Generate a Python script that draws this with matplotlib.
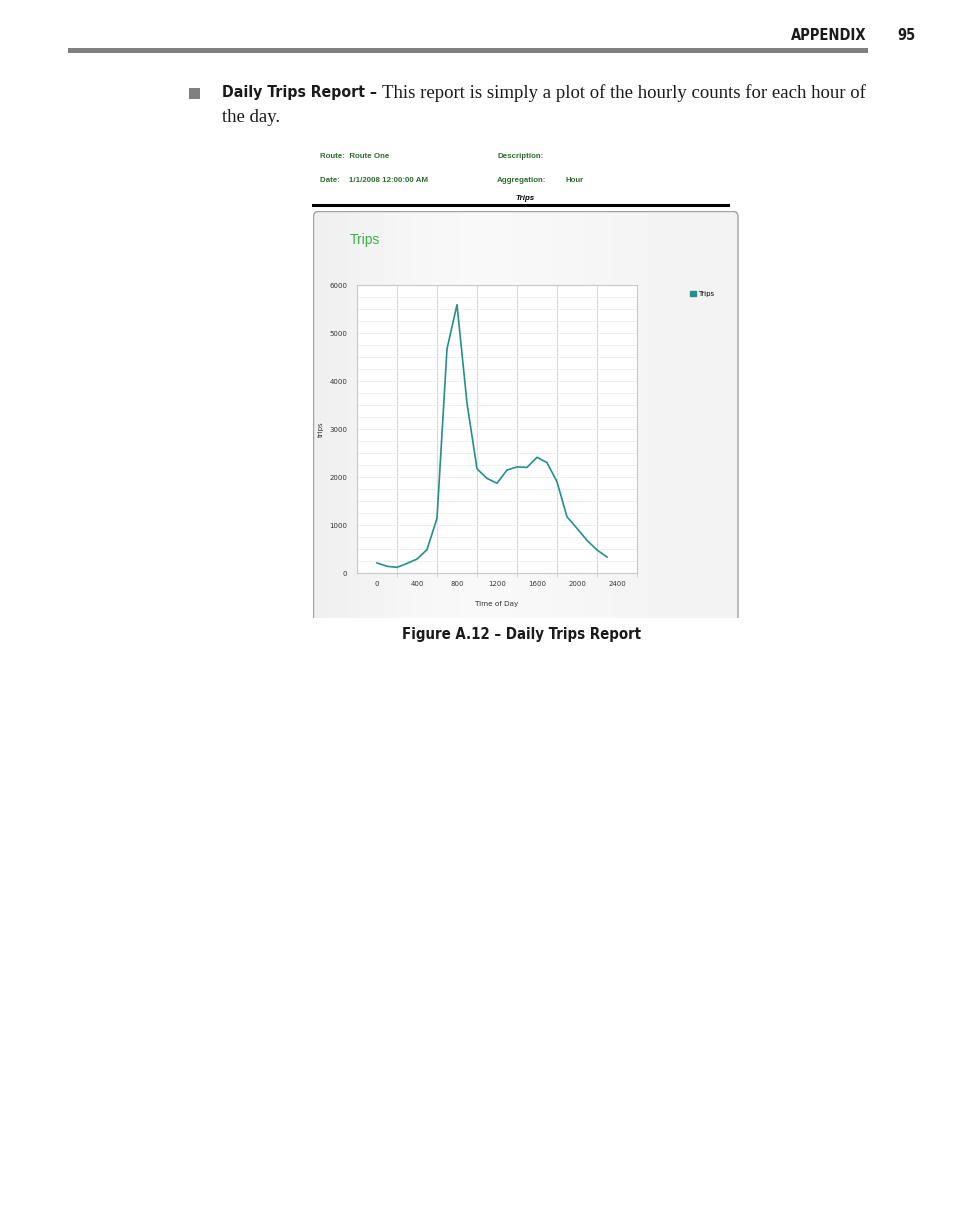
import numpy as np
import matplotlib
matplotlib.use("Agg")
import matplotlib.pyplot as plt
from matplotlib.patches import Rectangle, FancyBboxPatch, Patch
from matplotlib.lines import Line2D

# hourly counts
hours = [0, 100, 200, 300, 400, 500, 600, 700, 800, 900, 1000, 1100,
         1200, 1300, 1400, 1500, 1600, 1700, 1800, 1900, 2000, 2100, 2200, 2300]
trips = [210, 140, 118, 200, 290, 486, 1140, 4670, 5590, 3540, 2170, 1970,
         1870, 2145, 2210, 2200, 2410, 2300, 1900, 1170, 930, 680, 480, 333]
x_ticks = [0, 400, 800, 1200, 1600, 2000, 2400]
x_grid = [200, 600, 1000, 1400, 1800, 2200, 2600]
y_ticks = [0, 1000, 2000, 3000, 4000, 5000, 6000]

W, H = 954, 1227
fig = plt.figure(figsize=(W / 100, H / 100), dpi=100)
fig.patch.set_facecolor("white")


def fx(x):
    return x / W


def fy(y):
    return 1 - y / H


def box(x0, y0, x1, y1):
    # pixel box -> axes rect in figure fraction
    return [fx(x0), fy(y1), (x1 - x0) / W, (y1 - y0) / H]


narrow = dict(family="DejaVu Sans", fontstretch="condensed", weight="bold")
serif = ["Liberation Serif", "DejaVu Serif"]
arial = ["Liberation Sans", "DejaVu Sans"]
ink = "#1a1a1a"

# page header
fig.text(fx(866), fy(36), "APPENDIX", fontsize=10.5, ha="right", va="center",
         color=ink, **narrow)
fig.text(fx(916), fy(36), "95", fontsize=10.5, ha="right", va="center", color=ink, **narrow)
fig.add_artist(Rectangle((fx(68), fy(53)), fx(868) - fx(68), 5 / H,
                         transform=fig.transFigure, color="#808080", lw=0))

# bullet paragraph
fig.add_artist(Rectangle((fx(189), fy(99)), 11 / W, 11 / H,
                         transform=fig.transFigure, color="#808080", lw=0))
lead = fig.text(fx(222), fy(93), "Daily Trips Report \u2013", fontsize=11.3,
                ha="left", va="center", color=ink, **narrow)
fig.canvas.draw()
lead_end = lead.get_window_extent().x1 / W
fig.text(lead_end + 5 / W, fy(93),
         "This report is simply a plot of the hourly counts for each hour of",
         family=serif, fontsize=13.5, ha="left", va="center", color=ink)
fig.text(fx(222), fy(117), "the day.", family=serif, fontsize=13.5, ha="left",
         va="center", color=ink)

# report header block
green_dark = "#2f6b2f"
hdr = dict(family=arial, weight="bold", fontsize=5.7, color=green_dark, va="center")
fig.text(fx(320), fy(157), "Route:  Route One", **hdr)
fig.text(fx(497), fy(157), "Description:", **hdr)
fig.text(fx(320), fy(180), "Date:    1/1/2008 12:00:00 AM", **hdr)
fig.text(fx(497), fy(180), "Aggregation:", **hdr)
fig.text(fx(566), fy(180), "Hour", **hdr)
fig.text(fx(525), fy(198), "Trips", family=arial, weight="bold", style="italic",
         fontsize=5.7, color="black", ha="center", va="center")
fig.add_artist(Line2D([fx(313), fx(728)], [fy(205), fy(205)], color="black", lw=2.2,
                      transform=fig.transFigure))

# grey chart panel with soft gradient
bg = fig.add_axes(box(313, 211, 739, 618))
bg.set_xlim(313, 739)
bg.set_ylim(618, 211)
bg.axis("off")
grad = np.array([[0.94, 0.958, 0.97, 0.975, 0.972, 0.966, 0.96, 0.955, 0.95]])
panel = FancyBboxPatch((313.5, 211.5), 424.5, 430, boxstyle="round,pad=0,rounding_size=5",
                       fc="none", ec="#a0a0a0", lw=1.0)
bg.add_patch(panel)
img = bg.imshow(np.repeat(grad, 3, axis=0), cmap="gray", vmin=0, vmax=1,
                extent=(313.5, 738, 641, 211.5), aspect="auto", interpolation="bicubic")
img.set_clip_path(panel)
bg.text(350, 240, "Trips", color="#3cb043", fontsize=10, family=arial,
        ha="left", va="center")

# the chart itself
ax = fig.add_axes(box(357, 285, 637, 573))
ax.set_facecolor("white")
ax.plot(hours, trips, color="#23908a", lw=1.2, label="Trips")
ax.set_xlim(-200, 2600)
ax.set_ylim(0, 6000)
ax.set_xticks(x_ticks)
ax.set_xticks(x_grid, minor=True)
ax.set_yticks(y_ticks)
ax.set_yticks(np.arange(0, 6001, 250), minor=True)
ax.tick_params(axis="x", which="major", length=0, pad=6, labelsize=5, colors="#333333")
ax.tick_params(axis="x", which="minor", length=3, color="#c8c8c8")
ax.tick_params(axis="y", which="both", length=0, pad=7, labelsize=5, colors="#333333")
ax.grid(False)
for g in x_grid:
    ax.axvline(g, color="#dadada", lw=0.8, zorder=0)
for v in np.arange(250, 6000, 250):
    ax.axhline(v, color="#ececec", lw=0.6, zorder=0)
for s in ax.spines.values():
    s.set_color("#c8c8c8")
    s.set_linewidth(0.8)
ax.set_xlabel("Time of Day", fontsize=5.2, color="#333333", labelpad=10)
ax.set_ylabel("trips", fontsize=5, color="#333333", labelpad=4)

ax.legend(handles=[Patch(color="#23908a", label="Trips")], loc="center left",
          bbox_to_anchor=(fx(690), fy(294)), bbox_transform=fig.transFigure,
          frameon=False, fontsize=5, handlelength=0.8, handleheight=0.8,
          handletextpad=0.3, borderaxespad=0, borderpad=0)

# caption
fig.text(fx(521), fy(634), "Figure A.12 \u2013 Daily Trips Report", fontsize=10.7,
         ha="center", va="center", color=ink, **narrow)

fig.savefig("out.png", dpi=100)
